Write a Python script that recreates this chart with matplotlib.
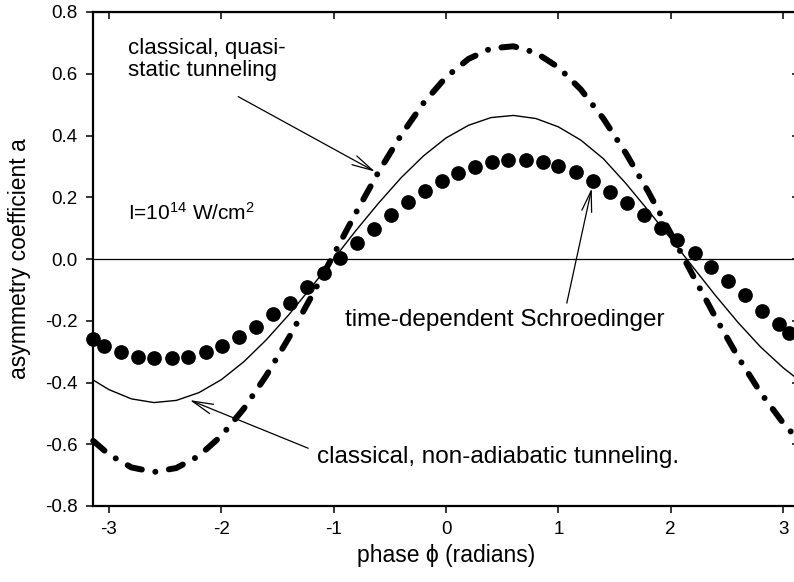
import numpy as np
import matplotlib
matplotlib.use("Agg")
from matplotlib import pyplot as plt

plt.rcParams["font.family"] = ["Liberation Sans", "DejaVu Sans"]
plt.rcParams["mathtext.default"] = "regular"
plt.rcParams["axes.unicode_minus"] = False

# phase grid for the two classical curves (radians)
phase = [-3.14, -3.0, -2.8, -2.6, -2.4, -2.2, -2.0, -1.8, -1.6, -1.4, -1.2,
         -1.0, -0.8, -0.6, -0.4, -0.2, 0.0, 0.2, 0.4, 0.6, 0.8, 1.0, 1.2,
         1.4, 1.6, 1.8, 2.0, 2.2, 2.4, 2.6, 2.8, 3.0, 3.14]

# classical, quasi-static tunneling (dash-dot)
quasi_static = [-0.589, -0.633, -0.675, -0.690, -0.677, -0.638, -0.573,
                -0.485, -0.378, -0.256, -0.123, 0.014, 0.151, 0.282, 0.401,
                0.505, 0.589, 0.648, 0.682, 0.689, 0.668, 0.621, 0.549,
                0.455, 0.343, 0.218, 0.083, -0.055, -0.190, -0.318, -0.433,
                -0.531, -0.588]

# classical, non-adiabatic tunneling (solid)
non_adiabatic = [-0.392, -0.423, -0.453, -0.465, -0.458, -0.433, -0.391,
                 -0.333, -0.262, -0.181, -0.092, 0.000, 0.093, 0.181, 0.263,
                 0.334, 0.392, 0.433, 0.458, 0.465, 0.455, 0.428, 0.385,
                 0.325, 0.245, 0.157, 0.066, -0.027, -0.119, -0.206, -0.285,
                 -0.352, -0.392]

# time-dependent Schroedinger (dots)
tdse_phase = [-3.14, -3.04, -2.89, -2.74, -2.60, -2.44, -2.30, -2.14, -1.99,
              -1.84, -1.69, -1.54, -1.39, -1.24, -1.09, -0.94, -0.79, -0.64,
              -0.49, -0.34, -0.19, -0.04, 0.11, 0.26, 0.41, 0.55, 0.71, 0.86,
              1.00, 1.16, 1.31, 1.46, 1.61, 1.76, 1.91, 2.06, 2.22, 2.36,
              2.51, 2.66, 2.81, 2.96, 3.05]
tdse = [-0.260, -0.282, -0.300, -0.316, -0.322, -0.322, -0.316, -0.300,
        -0.282, -0.254, -0.219, -0.178, -0.143, -0.091, -0.044, 0.003, 0.051,
        0.098, 0.142, 0.184, 0.220, 0.253, 0.279, 0.299, 0.313, 0.321, 0.321,
        0.315, 0.302, 0.283, 0.253, 0.218, 0.180, 0.143, 0.101, 0.062, 0.018,
        -0.025, -0.071, -0.117, -0.168, -0.211, -0.239]

yticks = [-0.8, -0.6, -0.4, -0.2, 0.0, 0.2, 0.4, 0.6, 0.8]
xticks = [-3, -2, -1, 0, 1, 2, 3]

fig = plt.figure(figsize=(7.94, 5.82), dpi=100)
ax = fig.add_axes([93 / 794, 1 - 506 / 582, (799 - 93) / 794, (506 - 12) / 582])

ax.axhline(0.0, color="k", lw=0.9, zorder=1)
ax.plot(phase, non_adiabatic, color="k", lw=1.0, zorder=2)
ax.plot(phase, quasi_static, color="k", lw=4.3, dashes=(2.5, 2.3, 0.01, 2.3),
        dash_capstyle="round", zorder=3, clip_on=False)
ax.plot(tdse_phase, tdse, "o", color="k", ms=10.6, mew=0, zorder=4,
        clip_on=False)

ax.set_xlim(-np.pi, np.pi)
ax.set_ylim(-0.8, 0.8)
ax.set_xticks(xticks)
ax.set_yticks(yticks)
ax.set_yticklabels(["%.1f" % v for v in yticks])
ax.tick_params(direction="out", length=5, width=1.1, labelsize=13.5, pad=6)
for side in ["left", "bottom", "top", "right"]:
    ax.spines[side].set_linewidth(1.6)

top = ax.secondary_xaxis("top")
top.set_xticks(xticks)
top.tick_params(direction="in", length=5, width=1.1, labeltop=False)
right = ax.secondary_yaxis("right")
right.set_yticks(yticks)
right.tick_params(direction="in", length=5, width=1.1, labelright=False)

ax.set_xlabel("phase \u03d5 (radians)", fontsize=16.5, labelpad=4)
ax.set_ylabel("asymmetry coefficient a", fontsize=16.5, labelpad=10)

arrow = dict(arrowstyle="->,head_length=0.75,head_width=0.18", color="k",
             lw=0.9, shrinkA=0, shrinkB=0, mutation_scale=20)
ax.annotate("", xy=(-0.632, 0.283), xytext=(-1.850, 0.526), arrowprops=arrow)
ax.annotate("", xy=(1.297, 0.229), xytext=(1.075, -0.143), arrowprops=arrow)
ax.annotate("", xy=(-2.280, -0.457), xytext=(-1.226, -0.613), arrowprops=arrow)

ax.text(-2.832, 0.645, "classical, quasi-\nstatic tunneling", fontsize=16,
        ha="left", va="center", linespacing=1.05)
ax.text(-2.832, 0.149, "I=10$^{14}$ W/cm$^{2}$", fontsize=15,
        ha="left", va="center")
ax.text(-0.899, -0.198, "time-dependent Schroedinger", fontsize=17.5,
        ha="left", va="center")
ax.text(-1.149, -0.641, "classical, non-adiabatic tunneling.", fontsize=17.5,
        ha="left", va="center")

fig.savefig("out.png", dpi=100)
